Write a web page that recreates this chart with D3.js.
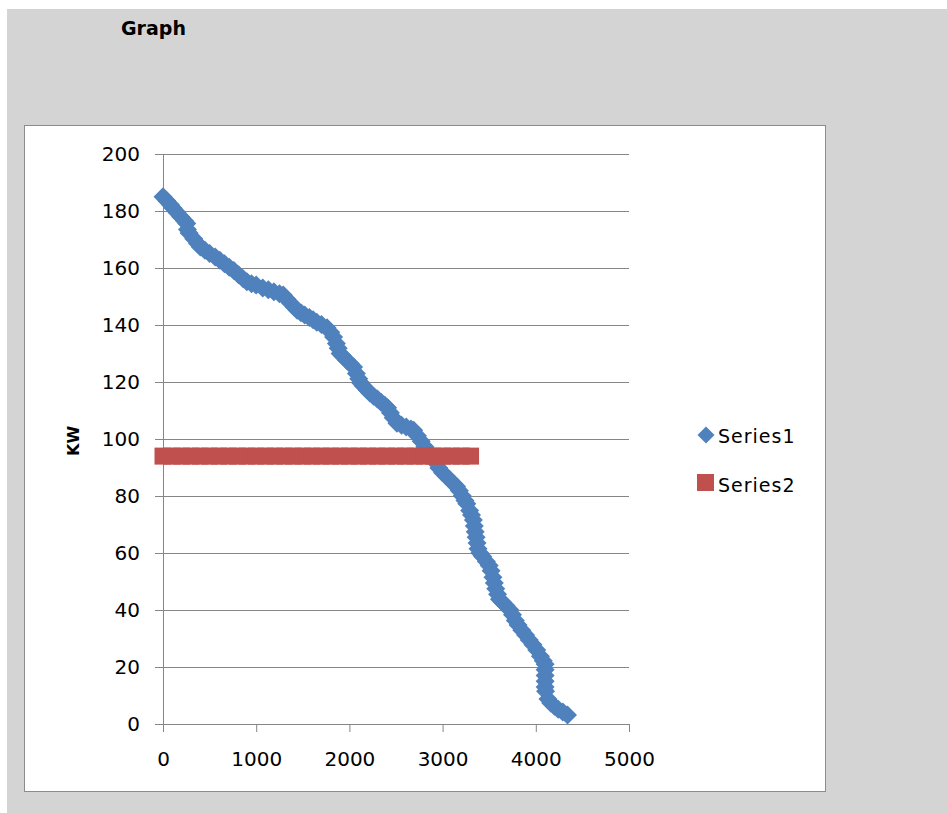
<!DOCTYPE html>
<html>
<head>
<meta charset="utf-8">
<script src="https://cdn.jsdelivr.net/npm/d3@7"></script>
<style>
body { margin: 0; background: #fff; }
text { font-family: "DejaVu Sans", sans-serif; fill: #000; }
.grid line { stroke: #868686; }
.grid path { display: none; }
.axis path, .axis line { stroke: #868686; }
</style>
</head>
<body>
<script>
// Series1: [x, KW]
var series1 = [
  [0,185],[40,183.6],[80,182.2],[110,181],[150,179.5],[190,178],[230,176.6],[255,175.6],
  [262,173.5],[280,172.3],[330,170.3],[370,168.6],[400,167.4],[450,166.2],[500,165.1],
  [560,163.9],[610,162.7],[660,161.5],[710,160.3],[760,159.1],[810,157.6],[860,156.2],
  [900,155.2],[950,154.5],[1000,154],[1070,153],[1130,152.4],[1190,151.7],[1250,151],
  [1290,150.5],[1330,149],[1370,147.6],[1410,146.2],[1440,145.2],[1480,144.3],[1520,143.5],
  [1570,142.6],[1610,141.8],[1650,141],[1700,140.2],[1760,139],[1800,137.5],[1830,135.8],
  [1860,133.5],[1880,131.8],[1900,130],[1930,129],[1970,127.6],[2010,126.4],[2045,125.3],
  [2075,123],[2100,121.1],[2120,119.7],[2150,118.6],[2190,117.2],[2220,116.1],[2260,115],
  [2300,114],[2340,112.9],[2380,111.8],[2410,111],[2440,109.2],[2470,107.5],[2510,105.5],
  [2560,104.8],[2610,104.2],[2660,103.5],[2690,103.1],[2730,101.1],[2770,99.2],[2810,97.3],
  [2840,95.9],[2880,94],[2920,91.9],[2960,89.8],[3000,88.2],[3040,86.9],[3080,85.6],
  [3120,84.3],[3150,83.3],[3180,81.8],[3210,80.1],[3240,78.4],[3260,77.3],[3290,74.9],
  [3310,73.3],[3330,71.6],[3340,69.5],[3350,67.5],[3360,65.5],[3370,63.5],[3380,61.5],
  [3400,60],[3430,58.8],[3470,57],[3500,55.6],[3520,53.8],[3540,51.5],[3555,49.5],
  [3570,47.5],[3590,45.5],[3610,43.8],[3640,42.8],[3680,41.5],[3720,40.1],[3750,38.3],
  [3780,36.3],[3810,34.7],[3850,32.9],[3890,31.2],[3930,29.5],[3970,27.8],[4010,26],
  [4050,23.8],[4080,22.2],[4100,21],[4100,19],[4100,17],[4100,15],[4100,13],[4105,11.5],
  [4130,8.8],[4160,7.4],[4200,6.2],[4240,5.2],[4290,4.2],[4340,3.2]
];

// Series2: flat line at ~94 KW
var series2X = [0,100,200,300,400,500,600,700,800,900,1000,1100,1200,1300,1400,1500,1600,
  1700,1800,1900,2000,2100,2200,2300,2400,2500,2600,2700,2800,2900,3000,3100,3200,3300];
var series2Y = 94;

var xTicks = [0,1000,2000,3000,4000,5000];
var yTicks = [0,20,40,60,80,100,120,140,160,180,200];
var seriesNames = ["Series1","Series2"];
var colors = ["#4f81bd","#c0504d"];

var width = 947, height = 813;
var svg = d3.select("body").append("svg")
    .attr("width", width)
    .attr("height", height);

// gray page + white chart box
svg.append("rect").attr("x", 7).attr("y", 9).attr("width", width - 7).attr("height", height - 9)
    .attr("fill", "#d4d4d4");
svg.append("rect").attr("x", 24.5).attr("y", 125.5).attr("width", 801).attr("height", 666)
    .attr("fill", "#fff").attr("stroke", "#8c8c8c");

svg.append("text").attr("x", 121).attr("y", 35)
    .style("font-size", "19px").style("font-weight", "bold")
    .text("Graph");

var x = d3.scaleLinear().domain([0, 5000]).range([163, 629]);
var y = d3.scaleLinear().domain([0, 200]).range([724, 154]);

svg.append("g").attr("class", "grid")
    .attr("transform", "translate(163,0)")
    .call(d3.axisLeft(y).tickValues(yTicks).tickSize(-466).tickFormat(""));

var yAxis = svg.append("g").attr("class", "axis")
    .attr("transform", "translate(163,0)")
    .call(d3.axisLeft(y).tickValues(yTicks).tickSizeInner(8).tickSizeOuter(0).tickPadding(15));
yAxis.selectAll("text").style("font-size", "20px").style("font-family", "DejaVu Sans");

var xAxis = svg.append("g").attr("class", "axis")
    .attr("transform", "translate(0,724)")
    .call(d3.axisBottom(x).tickValues(xTicks).tickFormat(d3.format("d"))
        .tickSizeInner(8).tickSizeOuter(0).tickPadding(20));
xAxis.selectAll("text").style("font-size", "20px").style("font-family", "DejaVu Sans");

svg.append("text")
    .attr("transform", "translate(79,441) rotate(-90)")
    .attr("text-anchor", "middle")
    .style("font-size", "16px").style("font-weight", "bold")
    .text("KW");

var diamond = "M0,-9.5L9.5,0L0,9.5L-9.5,0Z";

svg.append("g").selectAll("path")
    .data(series1)
    .enter().append("path")
    .attr("d", diamond)
    .attr("transform", function(d) { return "translate(" + x(d[0]) + "," + y(d[1]) + ")"; })
    .attr("fill", colors[0]);

svg.append("g").selectAll("rect")
    .data(series2X)
    .enter().append("rect")
    .attr("x", function(d) { return x(d) - 8.5; })
    .attr("y", y(series2Y) - 8.5)
    .attr("width", 17).attr("height", 17)
    .attr("fill", colors[1]);

// legend
var legend = svg.append("g");
legend.append("path").attr("d", "M0,-8.5L8.5,0L0,8.5L-8.5,0Z")
    .attr("transform", "translate(706,435)").attr("fill", colors[0]);
legend.append("rect").attr("x", 697).attr("y", 474).attr("width", 17).attr("height", 17)
    .attr("fill", colors[1]);
legend.selectAll("text")
    .data(seriesNames)
    .enter().append("text")
    .attr("x", 718)
    .attr("y", function(d, i) { return 443 + i * 49; })
    .style("font-size", "19px")
    .style("letter-spacing", "1px")
    .text(function(d) { return d; });
</script>
</body>
</html>
